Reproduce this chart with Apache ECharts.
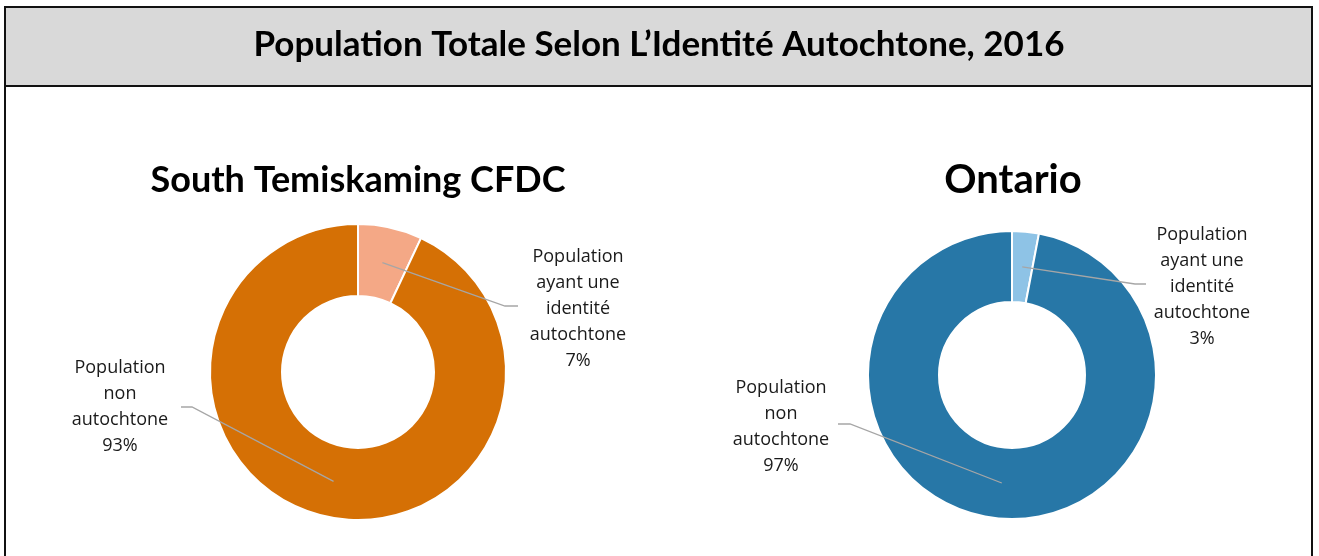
<!DOCTYPE html>
<html>
<head>
<meta charset="utf-8">
<script src="https://cdn.jsdelivr.net/npm/echarts@6/dist/echarts.min.js"></script>
<style>
  html, body { margin: 0; padding: 0; background: #fff; }
  #main { width: 1319px; height: 556px; }
</style>
</head>
<body>
<div id="main"></div>
<script>
// data
const categories = ['Population ayant une identité autochtone', 'Population non autochtone'];
const labelLines = ['Population\nayant une\nidentité\nautochtone', 'Population\nnon\nautochtone'];
const regions = ['South Temiskaming CFDC', 'Ontario'];
const southTemiskaming = [7, 93];
const ontario = [3, 97];

const myChart = echarts.init(document.getElementById('main'));

const FONT = 'Lato, "Open Sans", sans-serif';
const LABEL_FONT = '"Open Sans", sans-serif';

// pie geometry for each region
var pies = [
  { center: [358, 372], radius: [76, 148], colors: ['#f4a886', '#d57005'],
    labels: [ { pos: [578, 309], bend: [505, 306], end: [518, 306] },
              { pos: [120, 407], bend: [192, 407], end: [181, 407] } ] },
  { center: [1012, 375], radius: [73, 144], colors: ['#8ec3e6', '#2777a7'],
    labels: [ { pos: [1202, 287], bend: [1135, 284], end: [1146, 284] },
              { pos: [781, 427], bend: [850, 424], end: [838, 424] } ] }
];

// the donut itself
function ringSeries(idx, values) {
  var p = pies[idx];
  return {
    type: 'pie',
    center: p.center,
    radius: p.radius,
    startAngle: 90,
    clockwise: true,
    silent: true,
    animation: false,
    z: 2,
    data: values.map(function (v, i) {
      return { name: categories[i], value: v, itemStyle: { color: p.colors[i] } };
    }),
    itemStyle: { borderColor: '#fff', borderWidth: 2 },
    label: { show: false },
    labelLine: { show: false }
  };
}

// transparent copy on top, only for labels and leader lines (so lines pass over the ring)
function labelSeries(idx, values) {
  var p = pies[idx];
  var total = values.reduce(function (a, b) { return a + b; }, 0);
  var mids = [];
  var acc = 0;
  values.forEach(function (v) {
    mids.push((acc + v / 2) / total * Math.PI * 2);
    acc += v;
  });
  var midR = (p.radius[0] + p.radius[1]) / 2;
  return {
    type: 'pie',
    center: p.center,
    radius: p.radius,
    startAngle: 90,
    clockwise: true,
    silent: true,
    animation: false,
    z: 5,
    data: values.map(function (v, i) {
      return { name: categories[i], value: v };
    }),
    itemStyle: { color: 'rgba(0,0,0,0)', borderWidth: 0 },
    label: {
      show: true,
      position: 'outside',
      formatter: function (params) {
        return labelLines[params.dataIndex] + '\n' + params.value + '%';
      },
      fontFamily: LABEL_FONT,
      fontSize: 18,
      lineHeight: 26,
      color: '#1a1a1a',
      align: 'center'
    },
    labelLine: {
      show: true,
      lineStyle: { color: '#a6a6a6', width: 1.3 }
    },
    labelLayout: function (params) {
      var l = p.labels[params.dataIndex];
      var a = mids[params.dataIndex];
      var start = [p.center[0] + midR * Math.sin(a), p.center[1] - midR * Math.cos(a)];
      return {
        x: l.pos[0],
        y: l.pos[1],
        align: 'center',
        verticalAlign: 'middle',
        labelLinePoints: [start, l.bend, l.end]
      };
    }
  };
}

const option = {
  backgroundColor: '#fff',
  graphic: [
    { type: 'rect', z: -10, shape: { x: 5, y: 7, width: 1307, height: 79 },
      style: { fill: '#d9d9d9', stroke: '#111', lineWidth: 2 } },
    { type: 'rect', z: -10, shape: { x: 5, y: 86, width: 1307, height: 520 },
      style: { fill: 'none', stroke: '#111', lineWidth: 2 } },
    { type: 'text', x: 659, y: 45,
      style: { text: 'Population Totale Selon L\u2019Identité Autochtone, 2016',
        textAlign: 'center', textVerticalAlign: 'middle',
        font: 'bold 35px ' + FONT, fill: '#000' } },
    { type: 'text', x: 358, y: 180,
      style: { text: regions[0], textAlign: 'center', textVerticalAlign: 'middle',
        font: 'bold 36px ' + FONT, fill: '#000' } },
    { type: 'text', x: 1013, y: 180,
      style: { text: regions[1], textAlign: 'center', textVerticalAlign: 'middle',
        font: 'bold 40px ' + FONT, fill: '#000' } }
  ],
  series: [
    ringSeries(0, southTemiskaming),
    ringSeries(1, ontario),
    labelSeries(0, southTemiskaming),
    labelSeries(1, ontario)
  ]
};

myChart.setOption(option);
</script>
</body>
</html>
